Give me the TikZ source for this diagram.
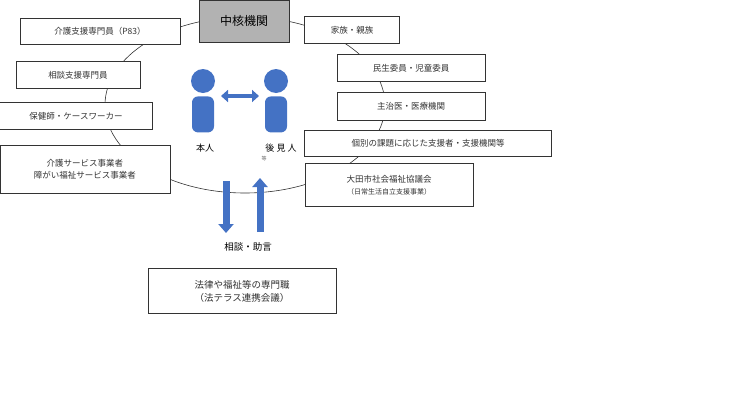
\documentclass[tikz,border=0pt]{standalone}
\usepackage{fontspec}
\setmainfont{Noto Sans CJK JP}
\usetikzlibrary{positioning, arrows.meta}
\definecolor{figblue}{HTML}{4472C4}
\tikzset{
  box/.style={draw=black!80, fill=white, inner sep=2pt, font=\fontsize{8.5}{12}\selectfont, text=black!80, align=center},
  person/.style={fill=figblue, draw=none},
  bigarrow/.style={draw=figblue, line width=7pt, -{Triangle[length=9pt,width=15pt]}},
}
\begin{document}
\begin{tikzpicture}[x=1pt, y=-1pt]

\useasboundingbox (0,0) rectangle (729,410);

\draw [black!80, semithick] (245,105) ellipse [x radius=140, y radius=88];

\node [box, fill=black!30, minimum width=90pt, minimum height=42pt, font=\fontsize{12}{14}\selectfont, text=black] (core) at (244,21) {中核機関};

\node [box, minimum width=160pt, minimum height=26pt] (care)   at (100,31)  {介護支援専門員（P83）};
\node [box, minimum width=124pt, minimum height=27pt] (consul) at (78,75)   {相談支援専門員};
\node [box, minimum width=153pt, minimum height=27pt] (nurse)  at (76,116)  {保健師・ケースワーカー};
\node [box, minimum width=170pt, minimum height=48pt] (service) at (85,169) {介護サービス事業者\\障がい福祉サービス事業者};

\node [box, minimum width=95pt,  minimum height=27pt] (family) at (352,30)  {家族・親族};
\node [box, minimum width=148pt, minimum height=27pt] (welfare) at (411,68) {民生委員・児童委員};
\node [box, minimum width=148pt, minimum height=28pt] (doctor) at (411,106) {主治医・医療機関};
\node [box, minimum width=247pt, minimum height=26pt] (indiv)  at (428,143) {個別の課題に応じた支援者・支援機関等};
\node [box, minimum width=168pt, minimum height=43pt] (council) at (389,185) {大田市社会福祉協議会\\{\fontsize{7}{9}\selectfont（日常生活自立支援事業）}};

% persons
\node [person, circle, minimum size=24pt] (headA) at (203,81) {};
\node [person, rounded corners=6pt, minimum width=22pt, minimum height=36pt, below=3pt of headA] (bodyA) {};
\node [person, circle, minimum size=24pt] (headB) at (276,81) {};
\node [person, rounded corners=6pt, minimum width=22pt, minimum height=36pt, below=3pt of headB] (bodyB) {};
\coordinate (la) at (221,96);
\coordinate (lb) at (259,96);
\draw [figblue, line width=4pt, {Triangle[length=7pt,width=12pt]}-{Triangle[length=7pt,width=12pt]}] (la) -- (lb);

\node [font=\fontsize{9}{10}\selectfont] (self) at (205,148) {本人};
\node [font=\fontsize{9}{10}\selectfont] (guard) at (281,148) {後 見 人};
\node [font=\fontsize{5}{6}\selectfont, text=black!60] (etc) at (264,159) {等};

% advice arrows
\coordinate (dtop) at (226,181);
\coordinate (dbot) at (226,233);
\coordinate (utop) at (260,178);
\coordinate (ubot) at (260,232);
\draw [bigarrow] (dtop) -- (dbot);
\draw [bigarrow] (ubot) -- (utop);

\node [font=\fontsize{9.5}{11}\selectfont] (advice) at (248,247) {相談・助言};
\node [box, minimum width=188pt, minimum height=45pt, font=\fontsize{9.5}{13}\selectfont] (expert) at (242,291) {法律や福祉等の専門職\\（法テラス連携会議）};

\end{tikzpicture}
\end{document}
